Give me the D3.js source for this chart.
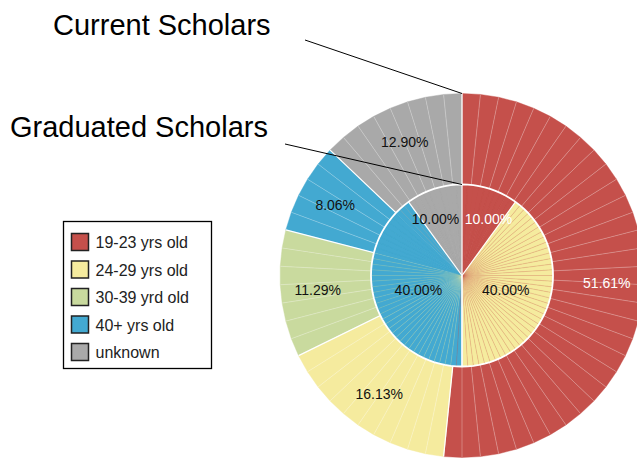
<!DOCTYPE html>
<html>
<head>
<meta charset="utf-8">
<script src="https://cdn.jsdelivr.net/npm/d3@7"></script>
<style>
  body { margin: 0; background: #fff; }
  text { font-family: "Liberation Sans", Arial, sans-serif; }
</style>
</head>
<body>
<div id="chart"></div>
<script>
// Data: scholars per age group (percent labels come from these counts)
const categories = ["19-23 yrs old", "24-29 yrs old", "30-39 yrd old", "40+ yrs old", "unknown"];
const currentScholars = [32, 10, 7, 5, 8];
const graduatedScholars = [1, 4, 0, 4, 1];
const ringTitles = ["Current Scholars", "Graduated Scholars"];
const colors = ["#c5504b", "#f5eb9e", "#c9da9e", "#43a9d1", "#a9a9a9"];

const width = 637, height = 461;
const cx = 462, cy = 275.5;
const outerR = 182, innerR = 91;

const svg = d3.select("#chart").append("svg")
    .attr("width", width)
    .attr("height", height);

const g = svg.append("g").attr("transform", `translate(${cx},${cy})`);

const pie = d3.pie().sort(null).value(d => d.count);
const pt = (a, r) => [r * Math.sin(a), -r * Math.cos(a)];
const fmt = d3.format(".2%");

function makeData(counts) {
  const total = d3.sum(counts);
  return counts.map((c, i) => ({ count: c, share: c / total, cat: categories[i], i }));
}

const outerArcs = pie(makeData(currentScholars));
const innerArcs = pie(makeData(graduatedScholars));

// split a slice into thin triangles (one per scholar * sub)
function pieces(arcs, sub) {
  const out = [];
  arcs.forEach(a => {
    const n = a.data.count * sub;
    const step = (a.endAngle - a.startAngle) / (n || 1);
    for (let k = 0; k < n; k++) {
      out.push({ i: a.data.i, a0: a.startAngle + k * step, a1: a.startAngle + (k + 1) * step });
    }
  });
  return out;
}

const tri = r => d => {
  const p = d3.path();
  p.moveTo(0, 0);
  p.lineTo(...pt(d.a0, r));
  p.lineTo(...pt(d.a1, r));
  p.closePath();
  return p.toString();
};

// outer pie (full, lies under the inner one)
const outerPieces = pieces(outerArcs, 1);
g.append("g").selectAll("path")
  .data(outerPieces)
  .join("path")
    .attr("d", tri(outerR))
    .attr("fill", d => colors[d.i])
    .attr("stroke", d => colors[d.i])
    .attr("stroke-width", 0.4);

// light seams between scholars
g.append("g").selectAll("line")
  .data(outerPieces)
  .join("line")
    .attr("x2", d => pt(d.a0, outerR)[0])
    .attr("y2", d => pt(d.a0, outerR)[1])
    .attr("stroke", "#fff")
    .attr("stroke-opacity", 0.35)
    .attr("stroke-width", 0.8);

// outer slice borders
g.append("g").selectAll("line")
  .data(outerArcs)
  .join("line")
    .attr("x2", d => pt(d.startAngle, outerR)[0])
    .attr("y2", d => pt(d.startAngle, outerR)[1])
    .attr("stroke", "#fff")
    .attr("stroke-width", 1.2);

// inner pie
const innerPieces = pieces(innerArcs, 10);
g.append("g").selectAll("path")
  .data(innerPieces)
  .join("path")
    .attr("d", tri(innerR))
    .attr("fill", d => colors[d.i])
    .attr("stroke", d => colors[d.i])
    .attr("stroke-width", 0.3);

// faint seams where the outer pie shows through
const outerAt = a => outerArcs.find(o => a >= o.startAngle && a < o.endAngle) || outerArcs[0];
g.append("g").selectAll("line")
  .data(innerPieces)
  .join("line")
    .attr("x2", d => pt(d.a0, innerR)[0])
    .attr("y2", d => pt(d.a0, innerR)[1])
    .attr("stroke", d => colors[outerAt(d.a0).data.i])
    .attr("stroke-opacity", 0.3)
    .attr("stroke-width", 0.7);

// inner outline
const ring = d3.range(0, 101).map(k => pt(k / 100 * 2 * Math.PI, innerR));
g.append("path")
  .attr("d", d3.line()(ring))
  .attr("fill", "none")
  .attr("stroke", "#fff")
  .attr("stroke-width", 1.8);

g.append("g").selectAll("line")
  .data(innerArcs)
  .join("line")
    .attr("x2", d => pt(d.startAngle, innerR)[0])
    .attr("y2", d => pt(d.startAngle, innerR)[1])
    .attr("stroke", "#fff")
    .attr("stroke-width", 1.2);

// slice labels; rf gives label distance for a slice, labels kept off the centre line
function labels(arcs, rf) {
  g.append("g").selectAll("text")
    .data(arcs.filter(d => d.data.count > 0))
    .join("text")
      .attr("x", d => {
        const x = pt((d.startAngle + d.endAngle) / 2, rf(d))[0];
        const half = 26.5;
        return Math.abs(x) < half ? Math.sign(x) * half : x;
      })
      .attr("y", d => pt((d.startAngle + d.endAngle) / 2, rf(d))[1])
      .attr("dy", "0.35em")
      .attr("text-anchor", "middle")
      .attr("font-size", 14)
      .attr("fill", d => d.data.i === 0 ? "#fff" : "#111")
      .text(d => fmt(d.data.share));
}
labels(outerArcs, () => 145);
// inner: sector centroid distance
labels(innerArcs, d => {
  const t = d.endAngle - d.startAngle;
  return 4 * innerR * Math.sin(t / 2) / (3 * t);
});

// ring titles with leader lines
const titles = [
  { text: ringTitles[0], x: 53, y: 35, lx: 305, ly: 40, r: outerR },
  { text: ringTitles[1], x: 10, y: 137, lx: 285, ly: 144, r: innerR }
];
titles.forEach(t => {
  svg.append("text")
    .attr("x", t.x).attr("y", t.y)
    .attr("font-size", 29)
    .attr("fill", "#000")
    .text(t.text);
  svg.append("line")
    .attr("x1", t.lx).attr("y1", t.ly)
    .attr("x2", cx).attr("y2", cy - t.r)
    .attr("stroke", "#000")
    .attr("stroke-width", 1);
});

// legend
const legend = svg.append("g").attr("transform", "translate(63.5,221.5)");
legend.append("rect")
  .attr("width", 148).attr("height", 147)
  .attr("fill", "#fff")
  .attr("stroke", "#000")
  .attr("stroke-width", 1.3);

const item = legend.selectAll("g.item")
  .data(categories)
  .join("g")
    .attr("class", "item")
    .attr("transform", (d, i) => `translate(8,${12 + i * 27.5})`);

item.append("rect")
  .attr("width", 17).attr("height", 17)
  .attr("fill", (d, i) => colors[i])
  .attr("stroke", "#222")
  .attr("stroke-width", 1.5);

item.append("text")
  .attr("x", 24).attr("y", 14.5)
  .attr("font-size", 16)
  .attr("fill", "#222")
  .text(d => d);
</script>
</body>
</html>
